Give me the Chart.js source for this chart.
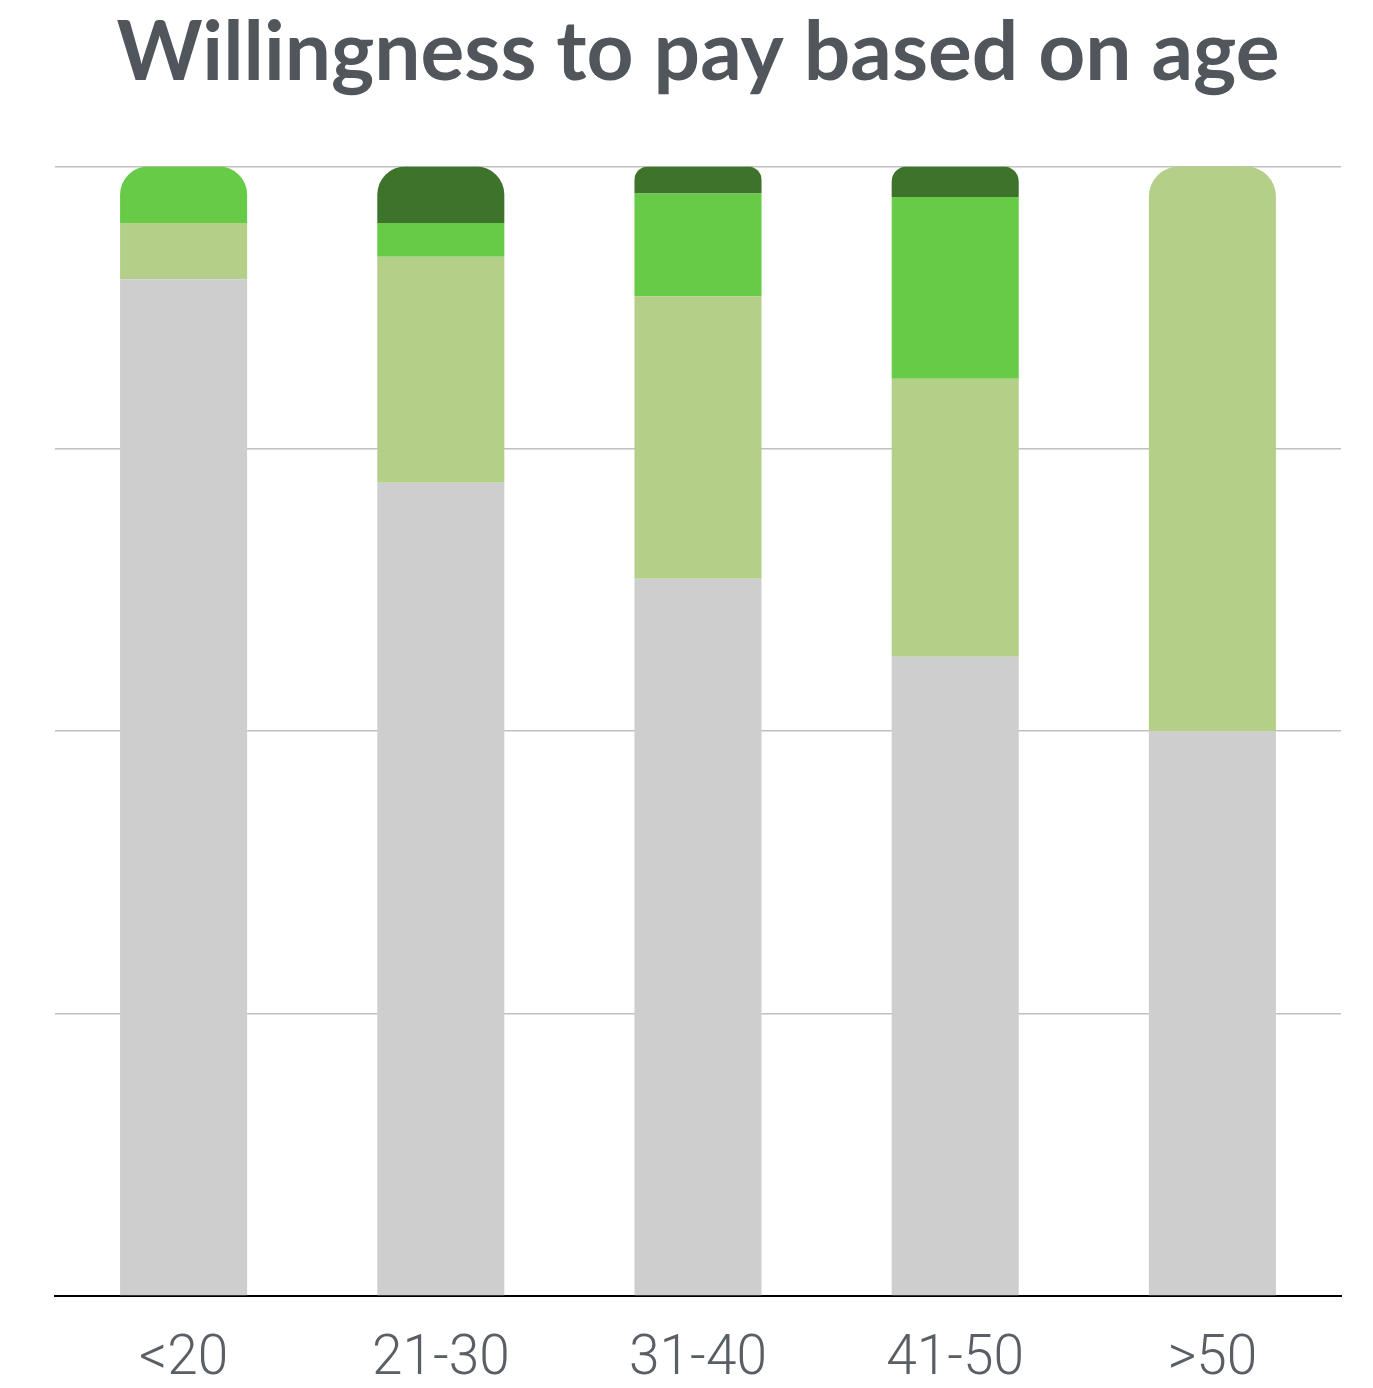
<!DOCTYPE html>
<html>
<head>
<meta charset="utf-8">
<title>Willingness to pay based on age</title>
<script src="https://cdn.jsdelivr.net/npm/chart.js@4/dist/chart.umd.min.js"></script>
<style>
  html, body { margin: 0; padding: 0; background: #ffffff; }
  #wrap { width: 1373px; height: 1388px; position: relative; }
</style>
</head>
<body>
<div id="wrap"><canvas id="chart"></canvas></div>
<script>
// Age groups along the x axis
const ageGroups = ['<20', '21-30', '31-40', '41-50', '>50'];

// Share of respondents (%) per willingness level, bottom to top of each stack
const notWilling      = [90, 72, 63.5, 56.6, 50];
const slightlyWilling = [5, 20, 25, 24.6, 50];
const willing         = [5, 3, 9.1, 16.1, 0];
const veryWilling     = [0, 5, 2.4, 2.7, 0];

const chartTitle = 'Willingness to pay based on age';

const ctx = document.getElementById('chart');
new Chart(ctx, {
  type: 'bar',
  data: {
    labels: ageGroups,
    datasets: [
      { label: 'Not willing',      data: notWilling,      backgroundColor: '#cecece' },
      { label: 'Slightly willing', data: slightlyWilling, backgroundColor: '#b3cf88' },
      { label: 'Willing',          data: willing,         backgroundColor: '#67cb48' },
      { label: 'Very willing',     data: veryWilling,     backgroundColor: '#3e732b' }
    ]
  },
  options: {
    responsive: true,
    maintainAspectRatio: false,
    animation: false,
    datasets: {
      bar: {
        categoryPercentage: 1,
        barPercentage: 0.494,
        borderRadius: 30,
        borderSkipped: 'start'
      }
    },
    layout: { padding: { left: 55, right: 32, top: 0, bottom: 0 } },
    plugins: {
      legend: { display: false },
      tooltip: { enabled: false },
      title: {
        display: true,
        text: chartTitle,
        color: '#51565c',
        font: { family: 'Lato', size: 82, weight: 'bold' },
        padding: { top: 4, bottom: 64 }
      }
    },
    scales: {
      x: {
        stacked: true,
        grid: { display: false, drawTicks: false },
        border: { display: true, color: '#000000', width: 2 },
        ticks: {
          color: '#5a5f66',
          padding: 37,
          font: { family: 'Roboto', size: 55, weight: '300', lineHeight: 1 }
        },
        // keep the label band a fixed height below the plot
        afterFit: (scale) => { scale.height = 92; }
      },
      y: {
        stacked: true,
        min: 0,
        max: 100,
        grid: { color: '#c0c0c0', lineWidth: 1.5, drawTicks: false },
        border: { display: false },
        ticks: { display: false, stepSize: 25 }
      }
    }
  }
});
</script>
</body>
</html>
